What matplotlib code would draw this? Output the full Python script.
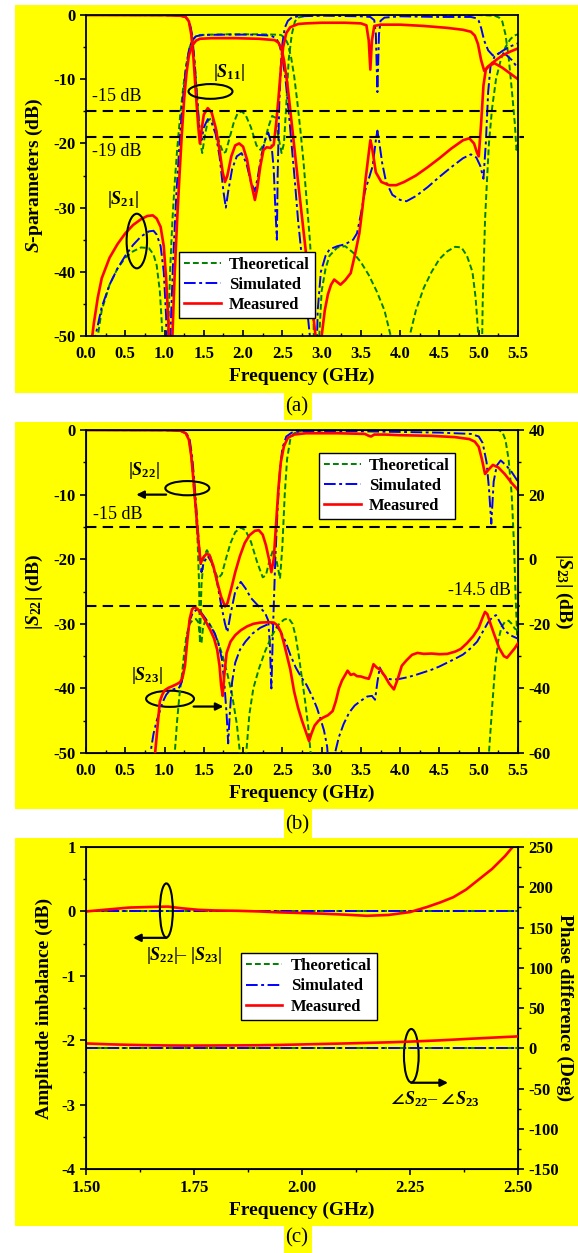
import numpy as np
import matplotlib.pyplot as plt
from matplotlib.patches import Ellipse, Rectangle
from matplotlib.ticker import MultipleLocator

plt.rcParams['font.family'] = ['Liberation Serif', 'DejaVu Serif']
plt.rcParams['font.weight'] = 'bold'
plt.rcParams['axes.labelweight'] = 'bold'
plt.rcParams['mathtext.fontset'] = 'custom'
plt.rcParams['mathtext.rm'] = 'Liberation Serif'
plt.rcParams['mathtext.it'] = 'Liberation Serif:italic:bold'
plt.rcParams['mathtext.bf'] = 'Liberation Serif:bold'
plt.rcParams['mathtext.fallback'] = 'stix'
plt.rcParams['axes.unicode_minus'] = False

YEL = '#ffff00'
GRN, BLU, RED = '#008000', '#0000ff', '#ff0000'
LS_T = (0, (3, 1.6))
LS_S = (0, (6, 1.8, 1.5, 1.8))

# ---------------- (a) S-parameters ----------------
a_s11_t_f = [0, 0.5, 1.0, 1.2, 1.26, 1.3, 1.33, 1.36, 1.39, 1.42, 1.45, 1.48, 1.51, 1.55, 1.6, 1.65, 1.7,
             1.75, 1.78, 1.82, 1.88, 1.93, 1.98, 2.03, 2.1, 2.17, 2.22, 2.27, 2.32, 2.37, 2.41, 2.45, 2.49,
             2.52, 2.55, 2.58, 2.62, 2.66, 2.7, 2.8, 3.0, 3.5, 4.0, 4.5, 5.0, 5.2, 5.26, 5.3, 5.34, 5.38,
             5.42, 5.46, 5.48, 5.5]
a_s11_t = [0, 0, -0.02, -0.1, -0.3, -0.8, -2, -4.5, -8.5, -14, -19.5, -21.5, -19, -16.5, -16, -17.5, -20,
           -21.5, -21.3, -19.5, -16.8, -15.3, -15, -15.5, -17.5, -20.3, -21, -20, -17.5, -15.7, -16, -19,
           -21.5, -20, -14, -7, -3, -1, -0.4, -0.1, 0, 0, 0, 0, 0, -0.1, -0.4, -1, -3, -6.5, -11.5, -17,
           -21, -20]
a_s21_t_f = [0.1, 0.15, 0.2, 0.3, 0.4, 0.5, 0.6, 0.7, 0.8, 0.86, 0.9, 0.94, 0.97, 1.0, 1.04, 1.07, 1.1,
             1.13, 1.16, 1.2, 1.24, 1.28, 1.32, 1.36, 1.4, 1.45, 1.6, 1.8, 2.0, 2.2, 2.4, 2.48, 2.53, 2.57,
             2.61, 2.65, 2.69, 2.73, 2.77, 2.81, 2.85, 2.89, 2.93, 2.97, 3.0, 3.05, 3.1, 3.2, 3.3, 3.4, 3.5,
             3.6, 3.7, 3.8, 3.88, 4.0, 4.12, 4.2, 4.3, 4.4, 4.5, 4.6, 4.7, 4.78, 4.85, 4.92, 4.96, 4.99,
             5.02, 5.05, 5.08, 5.1, 5.13, 5.17, 5.22, 5.28, 5.34, 5.4, 5.45, 5.5]
a_s21_t = [-55, -50, -46, -42, -39.5, -37.8, -36.8, -36.2, -36.3, -37.3, -39, -43, -49, -70, -52, -40, -32,
           -26, -21, -15.5, -11, -7.5, -5, -3.8, -3.3, -3.1, -3.05, -3.0, -3.0, -3.0, -3.05, -3.1, -3.5,
           -4.5, -6.5, -9.5, -13.5, -18, -23, -29, -35, -43, -70, -50, -43, -39.5, -37.5, -36.2, -36, -37,
           -38.5, -40.5, -43, -46, -50, -70, -50, -46, -42.5, -40, -38, -36.8, -36.1, -36.2, -37.5, -40,
           -44, -49, -70, -45, -32, -27, -20, -14.5, -10, -7, -5, -3.8, -3.2, -3]

a_s11_s_f = [0, 1.0, 1.2, 1.28, 1.32, 1.35, 1.38, 1.41, 1.44, 1.47, 1.5, 1.55, 1.6, 1.65, 1.7, 1.75, 1.78,
             1.81, 1.86, 1.92, 1.98, 2.04, 2.1, 2.15, 2.19, 2.23, 2.28, 2.32, 2.36, 2.39, 2.41, 2.43, 2.44,
             2.46, 2.48, 2.5, 2.53, 2.57, 2.62, 2.7, 3.0, 3.5, 3.62, 3.67, 3.69, 3.71, 3.73, 3.75, 3.8, 4.0,
             4.5, 4.9, 4.97, 5.0, 5.03, 5.07, 5.12, 5.18, 5.22, 5.28, 5.35, 5.42, 5.5]
a_s11_s = [0, -0.02, -0.1, -0.4, -1.2, -3, -7, -12, -17, -19.5, -17.5, -16.2, -16.8, -18.5, -22, -27.5,
           -30, -27.5, -24, -22, -21.5, -23, -26, -27.5, -25, -22, -19.5, -18.3, -20, -24, -30, -35, -25,
           -14, -8, -4.5, -2, -0.9, -0.4, -0.2, -0.1, -0.2, -0.3, -0.8, -3, -12, -3, -0.9, -0.4, -0.2,
           -0.3, -0.3, -0.5, -0.9, -2, -4, -5.5, -6.3, -6.2, -5.8, -6.2, -7, -8.3]
a_s21_s_f = [0.1, 0.12, 0.2, 0.3, 0.4, 0.5, 0.6, 0.7, 0.8, 0.86, 0.9, 0.95, 0.99, 1.02, 1.05, 1.08, 1.11,
             1.15, 1.19, 1.23, 1.27, 1.31, 1.35, 1.4, 1.5, 1.8, 2.1, 2.35, 2.42, 2.46, 2.5, 2.54, 2.58,
             2.62, 2.66, 2.7, 2.75, 2.8, 2.85, 2.9, 2.95, 2.99, 3.05, 3.1, 3.2, 3.3, 3.4, 3.45, 3.5, 3.55,
             3.6, 3.65, 3.69, 3.71, 3.73, 3.77, 3.82, 3.9, 4.0, 4.08, 4.2, 4.35, 4.5, 4.65, 4.8, 4.9, 4.97,
             5.02, 5.06, 5.09, 5.12, 5.15, 5.2, 5.3, 5.4, 5.5]
a_s21_s = [-55, -50, -45.5, -42, -39.5, -37.5, -35.8, -34.5, -33.7, -33.6, -34.2, -36, -40, -47, -70, -48,
           -38, -28, -20, -13.5, -8.5, -5.5, -4, -3.3, -3.1, -3.05, -3.05, -3.2, -3.6, -4.5, -6.5, -10, -15,
           -20.5, -26, -32, -38, -44, -50, -70, -46, -40, -37.5, -36.5, -36, -35.7, -35, -34, -31, -27.5,
           -25.5, -23.5, -19.5, -18, -19.5, -23, -26, -28, -28.8, -29, -28.2, -26.8, -25.2, -23.7, -22.3,
           -21.7, -22.2, -23.5, -25.5, -20, -12, -8, -6.5, -5.6, -4.9, -4.4]

a_s11_m_f = [0, 1.0, 1.2, 1.27, 1.31, 1.34, 1.37, 1.4, 1.43, 1.45, 1.47, 1.5, 1.55, 1.6, 1.65, 1.7, 1.74,
             1.77, 1.8, 1.85, 1.9, 1.95, 2.0, 2.05, 2.1, 2.15, 2.18, 2.22, 2.26, 2.3, 2.35, 2.39, 2.42, 2.45,
             2.48, 2.51, 2.55, 2.6, 2.7, 2.8, 3.0, 3.3, 3.5, 3.57, 3.6, 3.62, 3.64, 3.67, 3.75, 4.0, 4.3, 4.6,
             4.8, 4.9, 4.95, 4.99, 5.03, 5.07, 5.12, 5.2, 5.3, 5.4, 5.5]
a_s11_m = [0, -0.02, -0.1, -0.3, -1, -3, -7, -12.5, -17.5, -20, -18, -15.5, -14.5, -15.2, -17.5, -21, -24.5,
           -26, -25, -22, -20.3, -20, -20.5, -22.5, -26, -28.8, -27, -23.5, -21, -20.6, -20.7, -20.2, -17,
           -13, -8.5, -5, -2.8, -1.9, -1.4, -1.3, -1.2, -1.2, -1.3, -1.6, -4, -8.5, -4, -1.7, -1.5, -1.5,
           -1.7, -2.0, -2.3, -2.6, -3.2, -4.5, -7, -8.7, -8, -7.5, -8.2, -9.1, -10]
a_s21_m_f = [0.08, 0.1, 0.15, 0.2, 0.3, 0.4, 0.5, 0.6, 0.7, 0.78, 0.85, 0.9, 0.95, 0.99, 1.02, 1.05, 1.07,
             1.1, 1.13, 1.16, 1.19, 1.22, 1.25, 1.28, 1.31, 1.35, 1.4, 1.45, 1.6, 1.9, 2.2, 2.4, 2.45, 2.49,
             2.52, 2.55, 2.58, 2.62, 2.66, 2.7, 2.75, 2.8, 2.85, 2.9, 2.94, 2.97, 3.0, 3.04, 3.08, 3.12, 3.16,
             3.2, 3.24, 3.3, 3.37, 3.43, 3.48, 3.52, 3.56, 3.6, 3.62, 3.64, 3.69, 3.76, 3.86, 3.95, 4.05,
             4.2, 4.35, 4.5, 4.65, 4.8, 4.88, 4.94, 4.98, 5.0, 5.03, 5.06, 5.09, 5.14, 5.2, 5.3, 5.4, 5.5]
a_s21_m = [-50, -48, -44, -41, -37.8, -35.7, -34, -32.7, -31.8, -31.3, -31.2, -31.7, -33, -36, -41, -48,
           -70, -50, -40, -32, -25, -18.5, -13, -9, -6.3, -4.8, -4.0, -3.7, -3.6, -3.6, -3.7, -3.9, -4.3,
           -5.3, -7, -9.5, -12.5, -17, -21.5, -26, -31.5, -37, -42.5, -47.5, -52, -70, -50, -46, -43.5, -42,
           -41.2, -41.6, -42, -41.3, -40.2, -37, -34, -30, -25.5, -21.5, -19.5, -20.5, -24.5, -26, -26.5,
           -26.5, -26, -25, -23.7, -22.3, -20.8, -19.5, -19.2, -20, -21.5, -22, -17, -11, -8.5, -7.8, -7.2,
           -6.3, -5.7, -5.2]

# ---------------- (b) |S22| (left, dB) and |S23| (right, dB) ----------------
b_s22_t_f = [0, 1.0, 1.2, 1.27, 1.31, 1.34, 1.37, 1.4, 1.42, 1.44, 1.45, 1.47, 1.5, 1.54, 1.58, 1.63, 1.68,
             1.73, 1.78, 1.84, 1.9, 1.97, 2.03, 2.1, 2.18, 2.25, 2.29, 2.33, 2.38, 2.43, 2.47, 2.5, 2.53,
             2.56, 2.6, 2.65, 2.75, 3.5, 4.5, 5.25, 5.3, 5.34, 5.38, 5.42, 5.45, 5.47, 5.49, 5.5]
b_s22_t = [0, -0.02, -0.1, -0.5, -1.5, -4, -8.5, -13, -17, -24, -33, -24, -19.5, -18.6, -19.5, -21.5, -23,
           -22.3, -20, -17.5, -15.8, -15.1, -15.5, -17.3, -20.5, -22.8, -22.5, -20.5, -18.6, -20.5, -23,
           -18, -10, -4.5, -1.5, -0.5, -0.1, 0, 0, 0, -0.3, -1.5, -4.5, -10, -18, -26, -32, -30]
b_s22_s_f = [0, 1.0, 1.2, 1.28, 1.32, 1.35, 1.38, 1.41, 1.44, 1.47, 1.5, 1.55, 1.6, 1.66, 1.72, 1.77, 1.8,
             1.84, 1.9, 1.97, 2.03, 2.1, 2.2, 2.28, 2.32, 2.34, 2.36, 2.38, 2.41, 2.44, 2.47, 2.5, 2.55, 2.62,
             2.75, 3.5, 4.0, 4.5, 4.9, 5.0, 5.05, 5.1, 5.13, 5.16, 5.19, 5.23, 5.28, 5.35, 5.42, 5.5]
b_s22_s = [0, -0.02, -0.1, -0.5, -1.5, -4, -8, -13, -18, -22, -20.5, -19.5, -20.5, -23, -27, -30, -31.3,
           -28.5, -25, -23.5, -24.5, -26, -27.3, -28.3, -29.5, -33, -40, -31, -20, -12, -6, -2.8, -1, -0.4,
           -0.2, -0.2, -0.3, -0.4, -0.6, -1.0, -2, -5, -9, -14.5, -8, -5.5, -4.7, -5.5, -6.5, -8]
b_s22_m_f = [0, 1.0, 1.2, 1.27, 1.31, 1.34, 1.37, 1.4, 1.43, 1.46, 1.49, 1.53, 1.57, 1.62, 1.67, 1.72, 1.77,
             1.8, 1.85, 1.9, 1.96, 2.02, 2.08, 2.15, 2.2, 2.25, 2.29, 2.33, 2.36, 2.39, 2.42, 2.45, 2.48,
             2.52, 2.57, 2.65, 2.8, 3.2, 3.55, 3.6, 3.63, 3.67, 3.8, 4.0, 4.4, 4.7, 4.88, 4.95, 5.0, 5.04,
             5.08, 5.12, 5.18, 5.25, 5.33, 5.42, 5.5]
b_s22_m = [0, -0.02, -0.1, -0.5, -1.5, -4, -8, -12.5, -17, -20.6, -19.8, -19.2, -19.3, -21, -23.5, -25.8,
           -27.3, -26.8, -24.5, -22, -19.5, -17.5, -16.3, -15.6, -15.5, -16.2, -17.8, -20, -22, -20, -14.5,
           -9, -5, -2.5, -1.2, -0.7, -0.5, -0.5, -0.6, -0.9, -1.0, -0.7, -0.7, -0.8, -0.9, -1.1, -1.4, -1.8,
           -2.6, -4.5, -6.8, -6.2, -5.4, -5.8, -6.8, -8.2, -9.3]

b_s23_t_f = [1.1, 1.13, 1.16, 1.19, 1.22, 1.25, 1.28, 1.32, 1.36, 1.4, 1.43, 1.45, 1.47, 1.49, 1.52, 1.56,
             1.62, 1.68, 1.74, 1.8, 1.86, 1.92, 1.96, 2.0, 2.04, 2.08, 2.13, 2.2, 2.28, 2.36, 2.44, 2.52,
             2.58, 2.63, 2.67, 2.71, 2.75, 2.79, 2.83, 2.86, 2.9, 5.08, 5.13, 5.17, 5.21, 5.25, 5.29, 5.33,
             5.38, 5.42, 5.46, 5.5]
b_s23_t = [-70, -60, -50, -42, -36, -29, -23.5, -20, -18.8, -18.5, -19.5, -24, -26, -21, -19, -19.5, -22,
           -25.5, -30, -35.5, -42, -51, -60, -80, -60, -48, -40, -34, -28.5, -24, -20.5, -18.7, -18.3, -20,
           -24, -30, -37, -44, -52, -60, -80, -80, -60, -46, -33, -25, -21, -19.5, -19, -20, -21.5, -22]
b_s23_s_f = [0.78, 0.82, 0.86, 0.9, 0.94, 0.98, 1.02, 1.06, 1.12, 1.18, 1.22, 1.26, 1.29, 1.32, 1.36, 1.41,
             1.46, 1.52, 1.58, 1.64, 1.69, 1.73, 1.76, 1.79, 1.81, 1.83, 1.86, 1.9, 1.96, 2.03, 2.12, 2.22,
             2.3, 2.37, 2.42, 2.48, 2.54, 2.6, 2.67, 2.74, 2.81, 2.88, 2.94, 2.98, 3.03, 3.07, 3.12, 3.17,
             3.22, 3.28, 3.35, 3.42, 3.5, 3.58, 3.64, 3.68, 3.71, 3.74, 3.78, 3.84, 3.92, 4.0, 4.1, 4.2, 4.3,
             4.4, 4.5, 4.6, 4.7, 4.8, 4.9, 4.98, 5.05, 5.12, 5.18, 5.22, 5.27, 5.33, 5.4, 5.5]
b_s23_s = [-70, -60, -54, -50, -47, -44, -42, -40.8, -40.2, -40, -38, -32, -24, -19, -16.5, -15.6, -16.3,
           -18.3, -20.5, -23, -26.5, -31, -38, -48, -57, -48, -38, -32, -28, -25.5, -23, -21.2, -20.3,
           -19.8, -20.5, -22.5, -25.5, -29.5, -33.5, -36.5, -39, -42.5, -46, -49, -53, -58, -75, -60, -55,
           -51, -47.5, -45.3, -43.8, -42.5, -42.3, -43.5, -38, -33.5, -35.5, -37, -37.3, -37, -36.5, -35.8,
           -35, -34.2, -33.2, -32, -30.8, -29.5, -27.5, -25.5, -22.5, -19.5, -17.8, -17.3, -19.5, -22,
           -23.5, -24.6]
b_s23_m_f = [0.85, 0.88, 0.91, 0.94, 0.97, 1.0, 1.05, 1.1, 1.16, 1.2, 1.23, 1.26, 1.29, 1.32, 1.35, 1.38,
             1.42, 1.47, 1.53, 1.58, 1.63, 1.67, 1.7, 1.72, 1.74, 1.76, 1.79, 1.84, 1.9, 1.97, 2.05, 2.13,
             2.22, 2.32, 2.39, 2.44, 2.48, 2.52, 2.56, 2.6, 2.65, 2.7, 2.75, 2.8, 2.84, 2.87, 2.91, 2.96,
             3.02, 3.08, 3.14, 3.18, 3.22, 3.26, 3.3, 3.33, 3.37, 3.41, 3.45, 3.5, 3.55, 3.6, 3.63, 3.66,
             3.7, 3.75, 3.8, 3.86, 3.92, 3.97, 4.02, 4.08, 4.15, 4.22, 4.3, 4.4, 4.5, 4.6, 4.7, 4.77, 4.85,
             4.93, 5.0, 5.05, 5.08, 5.11, 5.15, 5.2, 5.26, 5.32, 5.36, 5.41, 5.46, 5.5]
b_s23_m = [-70, -60, -52, -44, -42, -40.6, -39.8, -39.3, -38.6, -38, -36.5, -33, -25, -18.5, -15.5, -14.8,
           -15.4, -17, -19.5, -21.8, -24.5, -28, -33, -39, -42.3, -36, -29, -25.5, -23.5, -22, -20.8, -20,
           -19.6, -19.5, -19.6, -20.5, -22.5, -26, -30, -34, -41, -46, -50, -53.5, -56.3, -54, -51.5, -50,
           -49, -48.3, -47, -44, -40, -37.5, -35.8, -34.5, -35.8, -35.5, -36.2, -36.3, -36.7, -37, -35,
           -32.5, -33.5, -34.3, -36, -38.5, -40.3, -37, -33, -31.3, -29.6, -29, -29.3, -29.2, -29.4, -29.3,
           -28.6, -27.8, -26, -23.8, -21.2, -18, -16.3, -17, -20, -23.5, -27.5, -30, -30.5, -29, -27.5, -26]

# ---------------- (c) imbalance ----------------
c_f = [1.5, 1.55, 1.6, 1.65, 1.69, 1.72, 1.76, 1.8, 1.85, 1.9, 1.95, 2.0, 2.05, 2.1, 2.15, 2.2, 2.25,
       2.29, 2.32, 2.35, 2.38, 2.41, 2.44, 2.47, 2.49, 2.5]
c_amp_m = [0.0, 0.03, 0.06, 0.07, 0.075, 0.05, 0.025, 0.015, 0.01, 0.0, -0.015, -0.025, -0.035, -0.05,
           -0.068, -0.055, -0.01, 0.07, 0.14, 0.22, 0.34, 0.5, 0.66, 0.86, 1.02, 1.1]
c_ph_m = [6, 5, 4.3, 3.8, 3.5, 3.4, 3.4, 3.5, 3.6, 3.8, 4.2, 4.8, 5.4, 6.0, 6.7, 7.4, 8.3, 9.2, 9.9, 10.7,
          11.6, 12.4, 13.2, 14.0, 14.5, 14.8]
c_ideal_f = [1.5, 2.5]
c_amp_ideal = [0, 0]
c_ph_ideal = [0, 0]

fig = plt.figure(figsize=(5.78, 12.53), dpi=100)
for (x0, y0, w, h) in [(0.026, 0.6864, 0.974, 0.3097), (0.4913, 0.6648, 0.0484, 0.0216),
                       (0.026, 0.3544, 0.974, 0.3089), (0.4913, 0.3312, 0.0484, 0.0232),
                       (0.026, 0.0215, 0.974, 0.3097), (0.4913, 0.0, 0.0484, 0.0216)]:
    fig.add_artist(Rectangle((x0, y0), w, h, transform=fig.transFigure, facecolor=YEL,
                             edgecolor='none', zorder=-10))

def style(ax, xdir):
    ax.set_facecolor(YEL)
    for s in ax.spines.values():
        s.set_linewidth(1.3)
    ax.tick_params(axis='x', direction=xdir, length=4, width=1.2, labelsize=12, pad=7)
    ax.tick_params(axis='x', which='minor', direction=xdir, length=2.5, width=1)
    ax.tick_params(axis='y', direction='out', length=4, width=1.2, labelsize=12)
    ax.tick_params(axis='y', which='minor', direction='out', length=2.5, width=1)

kw_t = dict(color=GRN, ls=LS_T, lw=1.4)
kw_s = dict(color=BLU, ls=LS_S, lw=1.4)
kw_m = dict(color=RED, ls='-', lw=1.9)
note = dict(fontsize=13, fontweight='normal')
ell = dict(fill=False, edgecolor='k', lw=1.5, zorder=6)
arr = dict(arrowstyle='-|>', color='k', lw=1.6, mutation_scale=11, shrinkA=0, shrinkB=0)
lab = dict(fontsize=14, fontweight='bold')

# (a)
ax = fig.add_axes([0.1488, 0.7318, 0.7474, 0.2562])
style(ax, 'in')
ax.plot(a_s11_t_f, a_s11_t, **kw_t)
ax.plot(a_s21_t_f, a_s21_t, label='Theoretical', **kw_t)
ax.plot(a_s11_s_f, a_s11_s, **kw_s)
ax.plot(a_s21_s_f, a_s21_s, label='Simulated', **kw_s)
ax.plot(a_s11_m_f, a_s11_m, **kw_m)
ax.plot(a_s21_m_f, a_s21_m, label='Measured', **kw_m)
ax.plot([0, 5.5], [-15, -15], color='k', ls=(0, (5, 3)), lw=1.5, zorder=5)
ax.plot([0, 5.57], [-19, -19], color='k', ls=(0, (5, 3)), lw=1.5, zorder=5, clip_on=False)
ax.set_xlim(0, 5.5)
ax.set_ylim(-50, 0)
ax.xaxis.set_major_locator(MultipleLocator(0.5))
ax.xaxis.set_minor_locator(MultipleLocator(0.25))
ax.yaxis.set_major_locator(MultipleLocator(10))
ax.yaxis.set_minor_locator(MultipleLocator(5))
ax.set_xlabel('Frequency (GHz)', labelpad=4, **lab)
ax.set_ylabel(r'$S$-parameters (dB)', labelpad=6, **lab)
ax.text(0.08, -12.7, '-15 dB', va='center', **note)
ax.text(0.08, -21.2, '-19 dB', va='center', **note)
ax.text(1.82, -8.9, r'$|S_{11}|$', ha='center', va='center', **note)
ax.add_patch(Ellipse((1.585, -11.9), 0.56, 2.3, **ell))
ax.text(0.47, -28.7, r'$|S_{21}|$', ha='center', va='center', **note)
ax.add_patch(Ellipse((0.647, -35.2), 0.26, 8.5, **ell))
lg = ax.legend(loc='upper left', bbox_to_anchor=(0.215, 0.262), fontsize=12, fancybox=False,
               edgecolor='k', framealpha=1, facecolor='white', borderaxespad=0, handlelength=2.2,
               handletextpad=0.5, labelspacing=0.25, borderpad=0.3)
lg.get_frame().set_linewidth(1.0)
lg.set_zorder(10)

# (b)
ax = fig.add_axes([0.1488, 0.399, 0.7474, 0.2578])
style(ax, 'in')
ax2 = ax.twinx()
ax2.tick_params(axis='y', direction='out', length=4, width=1.2, labelsize=12)
ax2.tick_params(axis='y', which='minor', direction='out', length=2.5, width=1)
l1, = ax.plot(b_s22_t_f, b_s22_t, **kw_t)
l2, = ax.plot(b_s22_s_f, b_s22_s, **kw_s)
l3, = ax.plot(b_s22_m_f, b_s22_m, **kw_m)
ax2.plot(b_s23_t_f, b_s23_t, **kw_t)
ax2.plot(b_s23_s_f, b_s23_s, **kw_s)
ax2.plot(b_s23_m_f, b_s23_m, **kw_m)
ax.plot([0, 5.5], [-15, -15], color='k', ls=(0, (5, 3)), lw=1.5, zorder=5)
ax2.plot([0, 5.52], [-14.5, -14.5], color='k', ls=(0, (5, 3)), lw=1.5, zorder=5, clip_on=False)
ax.set_xlim(0, 5.5)
ax.set_ylim(-50, 0)
ax2.set_ylim(-60, 40)
ax.xaxis.set_major_locator(MultipleLocator(0.5))
ax.xaxis.set_minor_locator(MultipleLocator(0.25))
ax.yaxis.set_major_locator(MultipleLocator(10))
ax.yaxis.set_minor_locator(MultipleLocator(5))
ax2.yaxis.set_major_locator(MultipleLocator(20))
ax2.yaxis.set_minor_locator(MultipleLocator(10))
ax.set_xlabel('Frequency (GHz)', labelpad=4, **lab)
ax.set_ylabel(r'$|S_{\mathbf{22}}|$ (dB)', labelpad=6, **lab)
ax2.set_ylabel(r'$|S_{\mathbf{23}}|$ (dB)', rotation=270, labelpad=17, **lab)
ax.text(0.085, -13.0, '-15 dB', va='center', **note)
ax2.text(5.41, -9.8, '-14.5 dB', ha='right', va='center', **note)
ax.text(0.73, -6.2, r'$|S_{22}|$', ha='center', va='center', **note)
ax.add_patch(Ellipse((1.29, -9.0), 0.56, 2.2, **ell))
ax.annotate('', xy=(0.64, -10.0), xytext=(1.02, -10.0), arrowprops=arr)
ax.text(0.77, -38.0, r'$|S_{23}|$', ha='center', va='center', **note)
ax.add_patch(Ellipse((1.07, -41.6), 0.61, 2.5, **ell))
ax.annotate('', xy=(1.75, -42.8), xytext=(1.37, -42.8), arrowprops=arr)
lg = ax2.legend([l1, l2, l3], ['Theoretical', 'Simulated', 'Measured'], loc='upper left',
                bbox_to_anchor=(0.539, 0.93), fontsize=12, fancybox=False, edgecolor='k',
                framealpha=1, facecolor='white', borderaxespad=0, handlelength=2.2,
                handletextpad=0.5, labelspacing=0.25, borderpad=0.3)
lg.get_frame().set_linewidth(1.0)

# (c)
ax = fig.add_axes([0.1488, 0.067, 0.7474, 0.257])
style(ax, 'out')
ax.tick_params(axis='x', pad=4)
ax2 = ax.twinx()
ax2.tick_params(axis='y', direction='out', length=4, width=1.2, labelsize=12)
ax2.tick_params(axis='y', which='minor', direction='out', length=2.5, width=1)
l1, = ax.plot(c_ideal_f, c_amp_ideal, **kw_t)
l2, = ax.plot(c_ideal_f, c_amp_ideal, **kw_s)
l3, = ax.plot(c_f, c_amp_m, **kw_m)
ax2.plot(c_ideal_f, c_ph_ideal, **kw_t)
ax2.plot(c_ideal_f, c_ph_ideal, **kw_s)
ax2.plot(c_f, c_ph_m, **kw_m)
ax.set_xlim(1.5, 2.5)
ax.set_ylim(-4, 1)
ax2.set_ylim(-150, 250)
ax.xaxis.set_major_locator(MultipleLocator(0.25))
ax.xaxis.set_minor_locator(MultipleLocator(0.125))
ax.xaxis.set_major_formatter('{x:.2f}')
ax.yaxis.set_major_locator(MultipleLocator(1))
ax.yaxis.set_minor_locator(MultipleLocator(0.5))
ax2.yaxis.set_major_locator(MultipleLocator(50))
ax2.yaxis.set_minor_locator(MultipleLocator(25))
ax.set_xlabel('Frequency (GHz)', labelpad=4, **lab)
ax.set_ylabel('Amplitude imbalance (dB)', labelpad=6, **lab)
ax2.set_ylabel('Phase difference (Deg)', rotation=270, labelpad=10, **lab)
ax.add_patch(Ellipse((1.686, 0.015), 0.03, 0.84, **ell))
ax.annotate('', xy=(1.609, -0.41), xytext=(1.686, -0.41), arrowprops=arr)
ax.text(1.726, -0.68, r'$|S_{22}|$– $|S_{23}|$', ha='center', va='center', **note)
ax.add_patch(Ellipse((2.253, -2.24), 0.034, 0.83, **ell))
ax.annotate('', xy=(2.338, -2.66), xytext=(2.253, -2.66), arrowprops=arr)
ax.text(2.306, -2.92, r'$\angle S_{22}$– $\angle S_{23}$', ha='center', va='center', **note)
lg = ax2.legend([l1, l2, l3], ['Theoretical', 'Simulated', 'Measured'], loc='upper left',
                bbox_to_anchor=(0.358, 0.67), fontsize=12, fancybox=False, edgecolor='k',
                framealpha=1, facecolor='white', borderaxespad=0, handlelength=2.2,
                handletextpad=0.5, labelspacing=0.25, borderpad=0.3)
lg.get_frame().set_linewidth(1.0)

fig.text(0.514, 0.6752, '(a)', fontsize=15, fontweight='normal', ha='center', va='center')
fig.text(0.514, 0.3416, '(b)', fontsize=15, fontweight='normal', ha='center', va='center')
fig.text(0.514, 0.012, '(c)', fontsize=15, fontweight='normal', ha='center', va='center')

fig.savefig('out.png', dpi=100)
